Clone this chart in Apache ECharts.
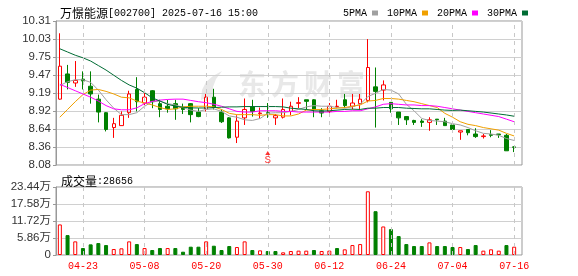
<!DOCTYPE html>
<html><head><meta charset="utf-8">
<script src="https://cdn.jsdelivr.net/npm/echarts@6/dist/echarts.min.js"></script>
<style>html,body{margin:0;padding:0;background:#fff}#c{width:578px;height:276px}</style>
</head><body><div id="c"></div>
<script>
const dates = ['04-18','04-21','04-22','04-23','04-24','04-25','04-28','04-29','04-30','05-06',
'05-07','05-08','05-09','05-12','05-13','05-14','05-15','05-16','05-19','05-20',
'05-21','05-22','05-23','05-26','05-27','05-28','05-29','05-30','06-03','06-04',
'06-05','06-06','06-09','06-10','06-11','06-12','06-13','06-16','06-17','06-18',
'06-19','06-20','06-23','06-24','06-25','06-26','06-27','06-30','07-01','07-02',
'07-03','07-04','07-07','07-08','07-09','07-10','07-11','07-14','07-15','07-16'];
const openP = [9.10,9.49,9.35,9.41,9.30,9.10,8.89,8.66,8.69,8.89,
9.25,9.04,9.23,9.03,8.99,9.03,8.97,9.03,8.90,8.95,
9.13,8.90,8.81,8.51,8.81,8.98,8.875,8.89,8.81,8.82,
8.91,9.035,9.09,9.09,8.92,8.91,8.985,9.09,8.99,9.03,
9.08,9.29,9.24,9.05,8.90,8.83,8.77,8.76,8.74,8.79,
8.76,8.70,8.59,8.63,8.56,8.52,8.55,8.56,8.54,8.36];
const closeP = [9.61,9.36,9.39,9.38,9.18,8.90,8.63,8.72,8.85,9.18,
9.06,9.13,9.06,8.94,8.95,8.95,8.94,8.86,8.83,9.13,
8.97,8.75,8.50,8.76,8.94,8.91,8.885,8.88,8.844,8.94,
8.99,9.045,9.066,8.94,8.885,8.99,8.99,9.00,9.04,9.10,
9.59,9.22,9.32,8.95,8.81,8.78,8.74,8.74,8.78,8.78,
8.69,8.63,8.61,8.58,8.52,8.53,8.54,8.55,8.30,8.355];
const lowP = [9.09,9.25,9.29,9.25,9.03,8.74,8.60,8.50,8.69,8.81,
8.91,8.99,8.96,8.82,8.89,8.78,8.87,8.74,8.82,8.91,
8.94,8.73,8.49,8.42,8.70,8.83,8.80,8.81,8.70,8.80,
8.85,8.96,8.94,8.82,8.82,8.83,8.96,8.96,8.94,8.94,
9.05,8.66,9.08,8.89,8.70,8.70,8.70,8.67,8.61,8.70,
8.69,8.60,8.47,8.54,8.50,8.49,8.51,8.50,8.30,8.28];
const highP = [10.12,9.63,9.69,9.53,9.53,9.17,8.90,8.81,8.91,9.23,
9.44,9.22,9.24,9.09,9.09,9.09,9.03,9.04,8.96,9.18,
9.26,8.94,8.82,8.85,9.11,9.09,8.97,9.04,8.87,9.11,
9.06,9.13,9.09,9.10,8.96,9.04,9.09,9.18,9.18,9.18,
10.03,9.59,9.39,9.05,8.90,8.83,8.78,8.79,8.82,8.79,
8.81,8.70,8.61,8.63,8.65,8.56,8.62,8.56,8.56,8.37];
const volume = [105400,68600,47000,24000,36700,41200,34300,20600,23000,47000,
37700,24000,17200,24000,24000,24000,11400,28600,28600,47000,
32000,17200,30900,27500,47000,17200,16000,13700,13700,9200,
13700,15000,15000,17200,13700,15000,24000,19500,34300,37700,
219600,151000,98400,89200,65200,37700,30900,30900,43500,30900,
30900,27500,27500,20600,34300,15000,19500,15000,34300,28656];
const volUp = [1,0,1,0,0,0,0,1,1,1, 0,1,0,0,1,0,0,0,0,1,
0,0,0,1,1,0,1,0,0,1, 1,1,1,0,1,1,0,1,1,1,
1,0,1,0,0,0,0,0,1,0, 0,0,1,0,0,1,1,1,0,1];
const ma5 = [9.31,9.37,9.40,9.40,9.36,9.24,9.09,8.96,8.86,8.86,
8.89,8.99,9.06,9.07,9.03,9.01,8.97,8.93,8.91,8.94,
8.95,8.91,8.84,8.82,8.78,8.77,8.80,8.88,8.89,8.89,
8.91,8.94,8.98,9.00,8.99,8.99,8.97,8.96,8.98,9.02,
9.14,9.19,9.25,9.24,9.18,9.02,8.92,8.80,8.77,8.76,
8.75,8.72,8.70,8.66,8.61,8.57,8.56,8.54,8.49,8.46];
const ma10 = [8.82,8.94,9.06,9.17,9.24,9.25,9.22,9.18,9.13,9.12,
9.07,9.04,9.01,8.97,8.94,8.95,8.98,8.99,8.99,8.99,
8.98,8.94,8.88,8.86,8.86,8.86,8.85,8.86,8.86,8.84,
8.84,8.87,8.93,8.94,8.94,8.95,8.96,8.97,8.99,9.01,
9.07,9.08,9.11,9.11,9.10,9.08,9.06,9.03,9.00,8.97,
8.88,8.82,8.75,8.71,8.69,8.66,8.64,8.62,8.57,8.53];
const ma20 = [9.33,9.28,9.23,9.18,9.13,9.07,9.00,8.95,8.935,8.935,
8.965,9.03,9.065,9.085,9.095,9.10,9.10,9.08,9.06,9.045,
9.02,8.99,8.95,8.91,8.90,8.90,8.92,8.92,8.92,8.91,
8.91,8.90,8.90,8.90,8.90,8.90,8.91,8.91,8.92,8.92,
8.95,8.98,9.02,9.03,9.02,9.01,9.01,9.00,9.00,8.99,
8.97,8.95,8.93,8.91,8.89,8.87,8.85,8.83,8.79,8.75];
const ma30 = [9.88,9.83,9.78,9.74,9.69,9.62,9.55,9.47,9.39,9.32,
9.27,9.20,9.12,9.07,9.02,8.99,8.975,8.965,8.963,8.963,
8.97,8.975,8.98,8.98,8.985,8.985,8.985,8.985,8.985,8.98,
8.96,8.95,8.94,8.92,8.915,8.92,8.93,8.94,8.945,8.94,
8.96,8.96,8.97,8.97,8.97,8.96,8.955,8.95,8.95,8.94,
8.93,8.925,8.93,8.92,8.91,8.90,8.885,8.87,8.855,8.835];
const priceTicks = ['8.08','8.36','8.64','8.92','9.19','9.47','9.75','10.03','10.31'];
const volTicks = ['0','5.86万','11.72万','17.58万','23.44万'];
const dateTicks = ['04-23','05-08','05-20','05-30','06-12','06-24','07-04','07-16'];
const signalS = ['05-30'];
const maNames = ['5PMA','10PMA','20PMA','30PMA'];
const priceMin = 8.08, priceMax = 10.31, volMax = 234400;

const UP = '#ff0000', DOWN = '#008000';
const maColors = ['#a0a0a0','#f0a000','#ff00ff','#006c34'];
const labelFont = 'Liberation Sans, Noto Sans CJK SC';

const chart = echarts.init(document.getElementById('c'), null, {renderer:'canvas'});
const candleData = dates.map((d,i)=>[openP[i], closeP[i], lowP[i], highP[i]]);
const volData = volume.map((v,i)=>({value:v, itemStyle:{
  color: volUp[i] ? '#ffffff' : DOWN, borderColor: volUp[i] ? UP : DOWN, borderWidth:1}}));
const vLines = {silent:true, symbol:['none','none'], animation:false, label:{show:false},
  lineStyle:{color:'#c8c8c8', type:[4,4], width:1}, emphasis:{disabled:true},
  data: dateTicks.map(d=>({xAxis:d}))};

const wm = ['东','方','财','富'];
const richTitle = {a:{fontFamily:'Noto Sans CJK SC', fontSize:12, fontWeight:'normal', color:'#000'},
                   b:{fontFamily:'Liberation Mono', fontSize:10, fontWeight:'normal', color:'#000'}};
const option = {
  animation:false,
  backgroundColor:'#fff',
  title:[
    {text:'{a|万憬能源}{b|[002700] 2025-07-16 15:00}', left:55, top:2,
     textStyle:{fontWeight:'normal', rich:richTitle}},
    {text:'{a|成交量}{b|:' + volume[volume.length-1] + '}', left:56, top:170,
     textStyle:{fontWeight:'normal', rich:richTitle}}
  ],
  legend:{data:maNames, left:338, top:3, itemWidth:6, itemHeight:5, itemGap:9, align:'right',
    icon:'rect', selectedMode:false,
    textStyle:{fontFamily:'Liberation Mono', fontSize:10, color:'#000'}},
  graphic: [
    {type:'polygon', z:-1, silent:true,
     shape:{points:[[201,100],[202,90],[206,82],[213,76],[222,71],[216,79],[213,87],[213,99],[208,97]]},
     style:{fill:'#e8e8e8'}},
    ...wm.map((ch,i)=>({type:'text', z:-1, silent:true,
      left: 238 + i*33, top: 70,
      style:{text:ch, fill:'#e8e8e8', font:'bold 28px "Noto Sans CJK SC"'}}))
  ],
  grid:[
    {left:56, top:21, width:466, height:144, show:true, borderColor:'#999', borderWidth:1},
    {left:56, top:21, width:462, height:144},
    {left:56, top:187, width:466, height:68, show:true, borderColor:'#999', borderWidth:1},
    {left:56, top:187, width:462, height:68}
  ],
  xAxis:[
    {gridIndex:0, type:'value', min:0, max:1, show:false},
    {gridIndex:1, type:'category', data:dates, boundaryGap:true, show:false},
    {gridIndex:2, type:'value', min:0, max:1, show:false},
    {gridIndex:3, type:'category', data:dates, boundaryGap:true,
     axisLine:{show:false}, axisTick:{show:false}, splitLine:{show:false},
     axisLabel:{interval:(idx,val)=>dateTicks.includes(val), color:'#ff0000', margin:6,
       fontFamily:'Liberation Mono', fontSize:10}}
  ],
  yAxis:[
    {gridIndex:0, type:'value', min:0, max:priceTicks.length-1, interval:1,
     axisLine:{show:true, lineStyle:{color:'#999'}}, axisTick:{show:true, length:3, lineStyle:{color:'#999'}},
     splitLine:{show:true, lineStyle:{color:'#d0d0d0'}},
     axisLabel:{formatter:v=>priceTicks[v], margin:5, color:'#333', fontFamily:labelFont, fontSize:11.5}},
    {gridIndex:1, type:'value', min:priceMin, max:priceMax, show:false, splitLine:{show:false}},
    {gridIndex:2, type:'value', min:0, max:volTicks.length-1, interval:1,
     axisLine:{show:true, lineStyle:{color:'#999'}}, axisTick:{show:true, length:3, lineStyle:{color:'#999'}},
     splitLine:{show:true, lineStyle:{color:'#d0d0d0'}},
     axisLabel:{formatter:v=>volTicks[v], margin:5, color:'#333', fontFamily:labelFont, fontSize:11.5}},
    {gridIndex:3, type:'value', min:0, max:volMax, show:false, splitLine:{show:false}}
  ],
  series:[
    {type:'candlestick', xAxisIndex:1, yAxisIndex:1, data:candleData, barWidth:4,
     itemStyle:{color:'rgba(255,255,255,0)', color0:DOWN, borderColor:UP, borderColor0:DOWN, borderWidth:1},
     markLine:vLines, z:3},
    ...[ma5,ma10,ma20,ma30].map((arr,k)=>({type:'line', name:maNames[k], xAxisIndex:1, yAxisIndex:1,
      data:arr, symbol:'none', smooth:false, z:4,
      lineStyle:{width:1, color:maColors[k]}, itemStyle:{color:maColors[k]}})),
    {type:'scatter', xAxisIndex:1, yAxisIndex:1, data:signalS.map(d=>[d, priceMin]),
     symbol:'triangle', symbolSize:[5,4], symbolOffset:[0,-12], itemStyle:{color:UP}, z:5,
     label:{show:true, formatter:'S', position:'bottom', distance:0, color:UP,
       fontFamily:'Liberation Mono', fontSize:11}},
    {type:'bar', xAxisIndex:3, yAxisIndex:3, data:volData, barWidth:4, markLine:vLines}
  ]
};
chart.setOption(option);
</script></body></html>
